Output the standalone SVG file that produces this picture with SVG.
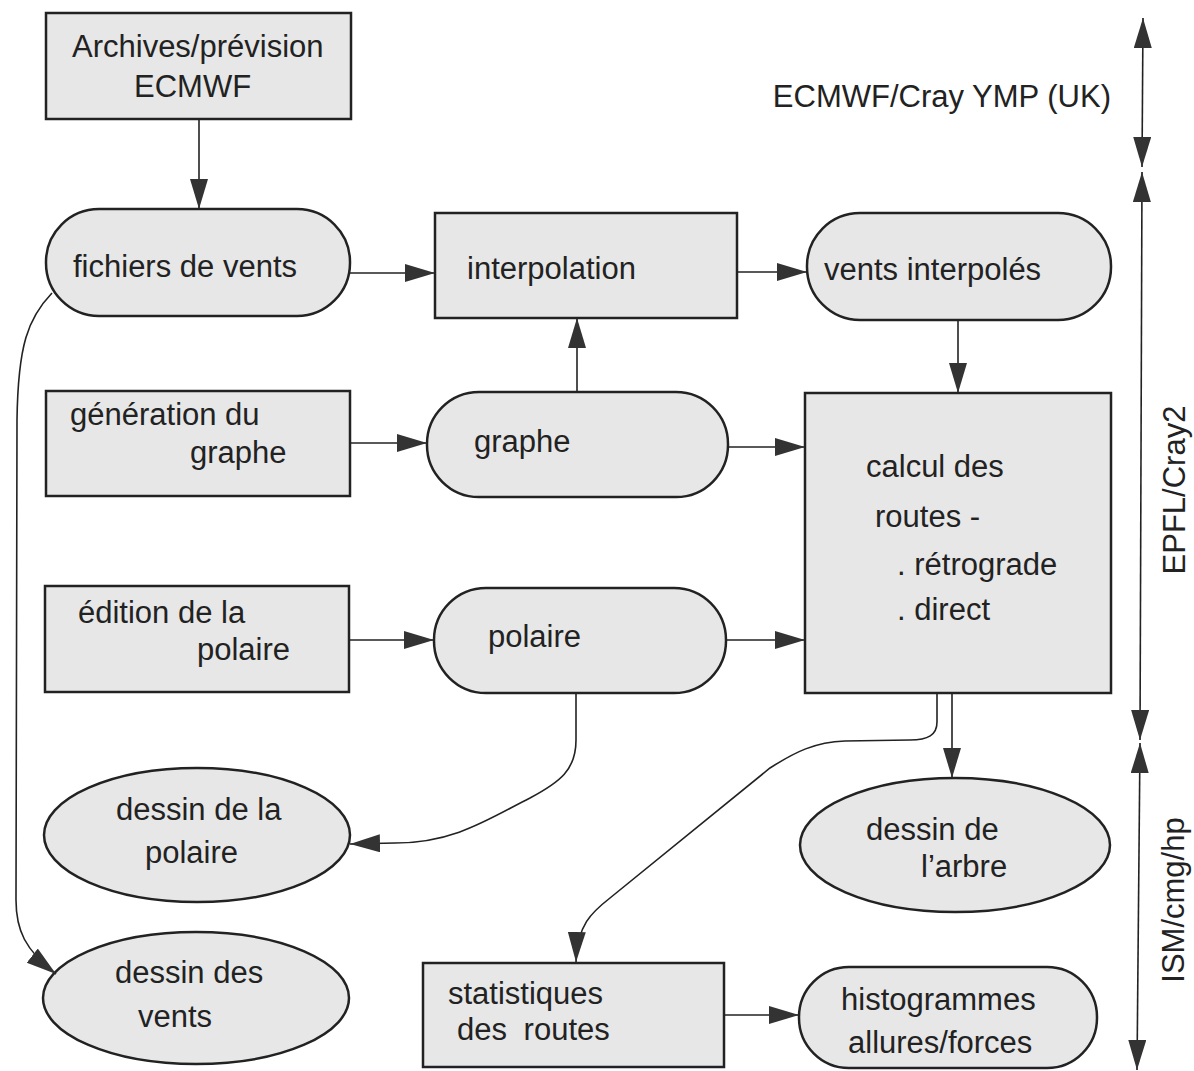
<svg xmlns="http://www.w3.org/2000/svg" width="1194" height="1071" viewBox="0 0 1194 1071">
<style>
.box{fill:#e7e7e7;stroke:#222;stroke-width:2.5}
.t{font-family:"Liberation Sans",Arial,sans-serif;font-size:31px;fill:#222}
.c{fill:none;stroke:#222;stroke-width:1.6}
</style>
<defs>
<marker id="ah" markerUnits="userSpaceOnUse" markerWidth="32" markerHeight="20" refX="30" refY="9" orient="auto-start-reverse">
<path d="M0,0 L30,9 L0,18 z" fill="#333"/>
</marker>
</defs>
<rect width="1194" height="1071" fill="#ffffff"/>

<g id="n-archives"><rect class="box" x="46" y="13" width="305" height="106"/><text class="t" x="72" y="57">Archives/prévision</text><text class="t" x="134" y="97">ECMWF</text></g>
<g id="n-fichiers"><rect class="box" x="46" y="209" width="304" height="107" rx="53" ry="53"/><text class="t" x="73" y="277">fichiers de vents</text></g>
<g id="n-interpolation"><rect class="box" x="435" y="213" width="302" height="105"/><text class="t" x="467" y="279">interpolation</text></g>
<g id="n-vents-interpoles"><rect class="box" x="807" y="213" width="304" height="107" rx="53" ry="53"/><text class="t" x="824" y="280">vents interpolés</text></g>
<g id="n-generation"><rect class="box" x="46" y="391" width="304" height="105"/><text class="t" x="70" y="425">génération du</text><text class="t" x="190" y="463">graphe</text></g>
<g id="n-graphe"><rect class="box" x="427" y="392" width="301" height="105" rx="52" ry="52"/><text class="t" x="474" y="452">graphe</text></g>
<g id="n-calcul"><rect class="box" x="805" y="393" width="306" height="300"/><text class="t" x="866" y="477">calcul des</text><text class="t" x="875" y="527">routes -</text><text class="t" x="897" y="575">. rétrograde</text><text class="t" x="897" y="620">. direct</text></g>
<g id="n-edition"><rect class="box" x="45" y="586" width="304" height="106"/><text class="t" x="78" y="623">édition de la</text><text class="t" x="197" y="660">polaire</text></g>
<g id="n-polaire"><rect class="box" x="434" y="588" width="292" height="105" rx="52" ry="52"/><text class="t" x="488" y="647">polaire</text></g>
<g id="n-dessin-polaire"><ellipse class="box" cx="197" cy="835" rx="153" ry="67"/><text class="t" x="116" y="820">dessin de la</text><text class="t" x="145" y="863">polaire</text></g>
<g id="n-dessin-vents"><ellipse class="box" cx="196" cy="998" rx="153" ry="66"/><text class="t" x="115" y="983">dessin des</text><text class="t" x="138" y="1027">vents</text></g>
<g id="n-dessin-arbre"><ellipse class="box" cx="955" cy="845" rx="155" ry="67"/><text class="t" x="866" y="840">dessin de</text><text class="t" x="921" y="877">l’arbre</text></g>
<g id="n-statistiques"><rect class="box" x="423" y="963" width="301" height="104"/><text class="t" x="448" y="1004">statistiques</text><text class="t" x="457" y="1040" word-spacing="8">des routes</text></g>
<g id="n-histogrammes"><rect class="box" x="799" y="967" width="298" height="101" rx="50" ry="50"/><text class="t" x="841" y="1010">histogrammes</text><text class="t" x="848" y="1053">allures/forces</text></g>

<g id="connectors">
<path class="c" d="M199,119 L199,209" marker-end="url(#ah)"/>
<path class="c" d="M350,273 L435,273" marker-end="url(#ah)"/>
<path class="c" d="M737,272 L807,272" marker-end="url(#ah)"/>
<path class="c" d="M958,320 L958,393" marker-end="url(#ah)"/>
<path class="c" d="M350,443 L427,443" marker-end="url(#ah)"/>
<path class="c" d="M577,392 L577,318" marker-end="url(#ah)"/>
<path class="c" d="M728,447 L805,447" marker-end="url(#ah)"/>
<path class="c" d="M349,640 L434,640" marker-end="url(#ah)"/>
<path class="c" d="M726,640 L805,640" marker-end="url(#ah)"/>
<path class="c" d="M576,693 L576,740 C576,770 560,782 530,798 C490,818 455,843 395,843 L350,844" marker-end="url(#ah)"/>
<path class="c" d="M952,693 L952,778" marker-end="url(#ah)"/>
<path class="c" d="M937,693 L937,722 C937,735 928,740 910,740 L845,741 C815,742 795,752 770,768 L610,898 C592,912 577,925 576,962" marker-end="url(#ah)"/>
<path class="c" d="M52,293 C28,318 18,345 17,420 L16,900 C16,930 25,950 56,974" marker-end="url(#ah)"/>
<path class="c" d="M724,1015 L799,1015" marker-end="url(#ah)"/>
</g>

<g id="axis">
<path class="c" d="M1143,18 L1142,167" marker-start="url(#ah)" marker-end="url(#ah)"/>
<path class="c" d="M1142,172 L1140,740" marker-start="url(#ah)" marker-end="url(#ah)"/>
<path class="c" d="M1140,743 L1137,1070" marker-start="url(#ah)" marker-end="url(#ah)"/>
<text class="t" x="1111" y="107" text-anchor="end">ECMWF/Cray YMP (UK)</text>
<text class="t" x="1185" y="490" text-anchor="middle" transform="rotate(-90 1185 490)">EPFL/Cray2</text>
<text class="t" x="1184" y="900" text-anchor="middle" transform="rotate(-90 1184 900)">ISM/cmg/hp</text>
</g>
</svg>
